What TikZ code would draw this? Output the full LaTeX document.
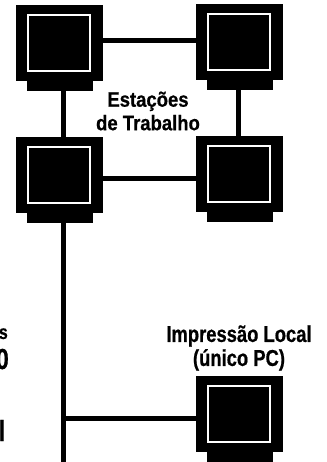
\documentclass[tikz,border=0pt]{standalone}
\usepackage{fontspec}
\setmainfont{Liberation Sans}
\newfontfamily\labelfont[FakeStretch=0.88,FakeBold=0.6]{Liberation Sans Bold}
\newfontfamily\labelfontwide[FakeStretch=0.8,FakeBold=0.6]{Liberation Sans Bold}
\tikzset{
  wire/.style={line width=5pt,black},
  lbl/.style={align=center,inner sep=0pt,font=\labelfont\fontsize{21}{23.5}\selectfont,text=black},
  lblb/.style={align=center,inner sep=0pt,font=\labelfontwide\fontsize{23}{24}\selectfont,text=black},
  cutsmall/.style={inner sep=0pt,anchor=base east,font=\labelfontwide\fontsize{20}{20}\selectfont,text=black},
  cutbig/.style={inner sep=0pt,anchor=base east,font=\labelfontwide\fontsize{29}{29}\selectfont,text=black},
  screen/.style={draw=white,line width=2pt,fill=black},
}
% #1 name, #2 left, #3 top
\newcommand{\monitor}[3]{%
  \fill[black] (#2,#3) rectangle ++(87,76);
  \fill[black] (#2+11,#3+76) rectangle ++(66,10);
  \draw[screen] (#2+12,#3+10) rectangle ++(62,56);
  \coordinate (#1-n) at (#2+47,#3);
  \coordinate (#1-s) at (#2+47,#3+86);
  \coordinate (#1-e) at (#2+87,#3+37);
  \coordinate (#1-w) at (#2,#3+37);
}
\begin{document}
\begin{tikzpicture}[x=1pt,y=-1pt]
\useasboundingbox (0,0) rectangle (326,462);
\fill[white] (0,0) rectangle (326,462);
\monitor{a}{16}{5}
\monitor{b}{196}{4}
\monitor{c}{16}{137}
\monitor{d}{196}{136}
\monitor{e}{196}{376}
\coordinate (busend) at (63.5,462);
\coordinate (tee) at (61,418);
\draw[wire] (103,41) -- (196,41);
\draw[wire] (63,91) -- (63,137);
\draw[wire] (238.5,90) -- (238.5,136);
\draw[wire] (103,178.5) -- (196,178.5);
\draw[wire] (63.5,223) -- (busend);
\draw[wire] (tee) -- (196,418);
\node[lbl] (t1) at (148,111) {Estações\\de Trabalho};
\node[lblb] (t2) at (239,348) {Impressão Local\\(único PC)};
\node[cutsmall] (f1) at (8,339) {s};
\node[cutbig] (f2) at (9,369) {0};
\node[cutbig] (f3) at (5.5,441) {l};
\end{tikzpicture}
\end{document}
